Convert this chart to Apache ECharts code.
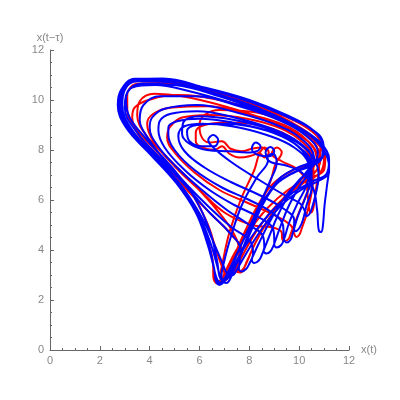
<!DOCTYPE html>
<html><head><meta charset="utf-8">
<script src="https://cdn.jsdelivr.net/npm/echarts@6/dist/echarts.min.js"></script>
<style>html,body{margin:0;padding:0;background:#fff}#c{width:400px;height:400px}</style>
</head><body><div id="c"></div><script>
// axis ranges / ticks
const xRange = [0, 12];
const yRange = [0, 12];
const tickStep = 2;
const xName = 'x(t)';
const yName = 'x(t\u2212\u03c4)';

// blue trajectory pieces (x(t), x(t-tau))
const blueOuter = [
[6.62,2.95],[6.68,2.7],[6.8,2.6],[6.95,2.7],[7.1,2.95],[7.45,3.7],[7.9,4.7],[8.4,5.7],[9.05,6.6],[9.8,7.1],[10.45,7.35],[10.9,7.65],[10.95,8.15],[10.55,8.8],[9.6,9.35],[8.0,10.0],[6.2,10.5],[4.5,10.85],[3.4,10.85],[2.85,10.4],[2.72,9.8],[3.05,8.9],[4.05,7.8],[5.05,6.7],[5.85,5.5],[6.3,4.3],[6.55,3.4],
[6.66,2.95],[6.76,2.74],[6.9,2.68],[7.05,2.8],[7.2,3.05],[7.65,3.85],[8.25,4.75],[8.95,5.6],[9.75,6.3],[10.55,6.75],[11.1,7.05],[11.2,7.6],[10.85,8.3],[9.8,9.0],[8.3,9.7],[6.5,10.3],[4.7,10.72],[3.5,10.75],[2.95,10.35],[2.85,9.75],[3.2,8.85],[4.2,7.75],[5.2,6.6],[5.95,5.45],[6.45,4.25],[6.7,3.4],
[6.8,3.05],[6.9,2.85],[7.03,2.8],[7.18,2.92],[7.32,3.15],[7.72,3.95],[8.15,4.95],[8.6,5.95],[9.2,6.85],[9.95,7.3],[10.6,7.55],[11.0,7.85],[10.95,8.35],[10.55,8.8],[9.7,9.25],[8.1,9.9],[6.3,10.45],[4.6,10.8],[3.45,10.8],[3.0,10.4],[2.9,9.8],[3.3,8.8],[4.4,7.6],[5.4,6.4],[6.15,5.2],[6.65,4.1],[6.95,3.4],
[7.08,3.1],[7.22,2.96],[7.38,3.02],[7.55,3.3],[8.05,4.15],[8.65,5.05],[9.35,5.85],[10.15,6.45],[10.85,6.8],[11.2,7.1],[11.2,7.65],[10.9,8.2],[10.15,8.8],[8.6,9.5],[6.8,10.15],[5.0,10.6],[3.7,10.65],[3.1,10.3],[3.0,9.7],[3.5,8.7],[4.5,7.6],[5.5,6.5],[6.4,5.5],[7.2,4.7],[7.65,4.0],[7.6,3.45]
];
const blueInner = [
[7.58,3.25],[7.7,3.14],[7.88,3.25],[8.0,3.45],[8.35,4.2],[8.8,5.1],[9.35,6.0],[10.0,6.8],[10.55,7.35],[10.75,7.9],[10.3,8.55],[9.3,9.15],[7.6,9.75],[5.8,10.15],[4.4,10.15],[3.75,9.8],[3.6,9.2],[3.85,8.6],[4.6,7.6],[5.5,6.6],[6.4,5.7],[7.3,4.9],[8.0,4.4],[8.15,3.85],
[8.1,3.6],[8.2,3.48],[8.38,3.58],[8.5,3.8],[8.8,4.55],[9.15,5.4],[9.65,6.3],[10.2,7.0],[10.6,7.7],[10.15,8.4],[9.1,9.0],[7.5,9.5],[5.9,9.8],[4.6,9.65],[4.1,9.3],[4.0,8.9],[4.3,8.2],[5.1,7.3],[6.1,6.4],[7.1,5.6],[8.0,5.0],[8.55,4.55],[8.6,4.1],
[8.57,3.98],[8.68,3.86],[8.85,3.95],[8.98,4.2],[9.25,4.95],[9.6,5.8],[10.05,6.6],[10.4,7.1],[10.5,7.65],[10.0,8.3],[8.9,8.85],[7.4,9.3],[5.9,9.55],[4.85,9.45],[4.4,9.15],[4.35,8.8],[4.6,8.1],[5.4,7.2],[6.4,6.4],[7.4,5.8],[8.4,5.3],[8.95,4.85],[9.0,4.4],
[9.0,4.22],[9.1,4.1],[9.28,4.2],[9.4,4.45],[9.6,5.1],[9.95,5.9],[10.3,6.6],[10.45,7.45],[9.9,8.2],[8.8,8.75],[7.3,9.1],[6.0,9.25],[5.1,9.15],[4.75,8.9],[4.75,8.6],[5.0,8.0],[5.8,7.2],[6.9,6.5],[8.0,6.0],[8.9,5.5],[9.35,5.0],[9.38,4.55],
[9.4,4.4],[9.5,4.3],[9.66,4.42],[9.75,4.7],[9.95,5.35],[10.25,6.1],[10.45,6.8],[10.4,7.4],[9.8,8.1],[8.7,8.6],[7.3,8.95],[6.1,9.05],[5.4,8.95],[5.15,8.55],[5.4,7.95],[6.2,7.3],[7.3,6.7],[8.4,6.2],[9.3,5.7],[9.8,5.2],[9.8,4.9]
];
const blueSpiral = [
[9.85,4.75],[10.02,4.9],[10.15,5.2],[10.3,5.8],[10.5,6.5],[10.5,7.2],[10.1,8.0],[9.3,8.55],[8.0,8.95],[6.8,9.05],[5.9,9.0],[5.5,8.75],[5.6,8.35],[6.1,8.15],[6.6,8.15],[6.75,8.4],[6.55,8.6],[6.35,8.4],[6.55,8.1],[7.3,7.5],[8.4,6.8],[9.4,6.2],[10.05,5.85],[10.25,5.5],
[10.3,5.35],[10.42,5.45],[10.52,5.7],[10.68,6.3],[10.78,6.95],[10.6,7.65],[10.0,8.25],[8.9,8.8],[7.4,9.2],[6.0,9.35],[5.35,9.1],[5.3,8.65],[5.6,8.25],[6.3,8.0],[7.2,7.95],[7.9,7.9],[8.3,7.95],[8.45,8.15],[8.25,8.3],[8.1,8.05],[8.35,7.8],[8.8,7.75],[9.0,7.95],[8.85,8.12],[8.65,7.9],[8.75,7.6],
[8.3,6.9],[7.7,5.8],[7.25,4.5],[6.98,3.5],[6.88,2.95],[6.95,2.72],[7.08,2.68],[7.22,2.82],
[7.55,3.6],[8.0,4.7],[8.5,5.75],[9.1,6.65],[9.85,7.15],[10.55,7.45],[10.95,7.75],[10.95,8.25],[10.6,8.75],[9.65,9.3],[8.05,9.95],[6.25,10.48],[4.55,10.85],[3.42,10.83],[2.9,10.4],[2.78,9.8],[3.15,8.85],[4.15,7.75],[5.15,6.65],[5.9,5.5],[6.35,4.3],[6.58,3.3],[6.65,2.85],[6.75,2.68],[6.88,2.7],[7.0,2.85],
[7.5,3.85],[8.0,4.9],[8.45,5.9],[8.85,6.8],[9.1,7.5],[8.95,7.85],[8.7,7.7],[8.9,7.5],[9.4,7.4],[10.1,7.1],[10.55,6.5],[10.72,5.6],[10.76,5.0],[10.8,4.76],[10.88,4.72],[10.95,4.95],[11.02,5.8],[11.12,6.6],[11.2,7.3],[10.95,8.05],[10.25,8.7],[9.05,9.3],[7.4,9.85],[5.6,10.35],[4.2,10.6],[3.3,10.5],[3.05,10.0],[3.2,9.3],[3.9,8.4],[4.9,7.3],[5.8,6.1],[6.4,4.8],[6.7,3.6],[6.8,2.95],[6.9,2.78]
];

// red trajectory pieces
const redOuter = [
[6.55,2.95],[6.6,2.75],[6.72,2.66],[6.86,2.76],[7.0,3.0],[7.4,3.8],[7.85,4.8],[8.35,5.8],[8.95,6.65],[9.75,7.2],[10.45,7.45],[10.85,7.8],[10.85,8.25],[10.5,8.75],[9.55,9.3],[7.95,9.95],[6.15,10.45],[4.45,10.78],[3.38,10.75],[2.92,10.3],[2.85,9.7],[3.2,8.85],[4.2,7.75],[5.2,6.6],[5.95,5.4],[6.4,4.15],[6.55,3.3],
[6.55,3.0],[6.63,2.8],[6.76,2.74],[6.9,2.86],[7.02,3.1],[7.45,3.95],[8.05,4.85],[8.75,5.7],[9.55,6.4],[10.35,6.85],[11.0,7.2],[11.05,7.8],[10.65,8.45],[9.7,9.1],[8.2,9.8],[6.4,10.35],[4.6,10.68],[3.5,10.65],[3.1,10.2],[3.1,9.6],[3.5,8.8],[4.6,7.6],[5.6,6.4],[6.3,5.1],[6.7,3.9],[6.95,3.2]
];
const redInner = [
[7.02,3.05],[7.15,2.94],[7.3,3.0],[7.45,3.25],[7.9,4.1],[8.45,5.0],[9.15,5.85],[9.9,6.55],[10.55,7.0],[10.85,7.6],[10.6,8.3],[9.85,8.9],[8.5,9.5],[6.8,10.0],[5.1,10.2],[3.95,10.0],[3.4,9.7],[3.3,9.3],[3.55,8.6],[4.5,7.5],[5.5,6.4],[6.5,5.4],[7.3,4.6],[7.7,3.95],[7.55,3.4],
[7.5,3.22],[7.62,3.15],[7.78,3.28],[7.88,3.5],[8.25,4.3],[8.75,5.2],[9.35,6.05],[10.0,6.75],[10.5,7.2],[10.7,7.7],[10.3,8.4],[9.4,9.0],[7.9,9.45],[6.3,9.75],[4.9,9.7],[4.15,9.45],[3.9,9.05],[4.15,8.35],[5.0,7.35],[6.0,6.4],[7.0,5.5],[8.1,5.0],[8.95,4.9],[9.3,4.7],[9.32,4.45],
[9.42,4.36],[9.58,4.45],[9.68,4.7],[9.95,5.4],[10.28,6.2],[10.55,7.0],[10.55,7.7],[10.15,8.3],[9.3,8.85],[7.9,9.25],[6.4,9.4],[5.3,9.3],[4.8,8.9],[4.7,8.5],[5.0,7.9],[5.8,7.1],[6.8,6.4],[7.9,5.9],[9.0,5.4],[9.65,5.0],[9.8,4.65]
];
const redHeart = [
[9.88,4.52],[10.0,4.6],[10.1,4.85],[10.32,5.5],[10.5,6.3],[10.58,7.1],[10.35,7.9],[9.6,8.55],[8.4,9.0],[7.1,9.1],[6.2,9.0],[5.85,8.7],[5.85,8.35],[6.1,8.1],[6.6,8.0],[6.9,8.15],[7.2,7.85],[7.6,7.7],[8.0,7.75],[8.4,7.9],[8.6,8.1],[8.78,7.9],[8.6,7.7],[8.45,7.85],
[8.2,7.2],[7.65,6.0],[7.2,4.7],[6.95,3.6],[6.85,3.0],[6.9,2.82],[7.02,2.78],[7.15,2.92],
[7.5,3.85],[7.95,4.85],[8.45,5.85],[8.85,6.75],[9.05,7.45],[9.3,7.9],[9.1,8.1],[8.9,7.85],[9.3,7.55],[9.9,7.25],[10.25,6.8],[10.35,6.1],[10.4,5.65],[10.47,5.5],[10.55,5.6],[10.62,6.0],[10.7,6.6],[10.8,7.2],[10.65,8.0],[9.9,8.65],[8.7,9.2],[7.0,9.75],[5.3,10.15],[4.2,10.25],[3.6,9.95],[3.5,9.4],[3.85,8.6],[4.8,7.6],[5.8,6.6],[6.7,5.6],[7.35,4.7],[7.6,3.9],[7.45,3.3],[7.5,3.12],[7.65,3.1],[7.8,3.3],
[8.25,4.3],[8.8,5.25],[9.45,6.1],[10.2,6.7],[10.85,7.1],[11.0,7.7],[10.6,8.4],[9.7,9.0],[8.3,9.5],[6.8,9.6],[6.2,9.4],[6.0,9.0],[6.05,8.6],[6.4,8.3],[6.9,8.35],[7.25,8.05],[7.7,7.95],[8.1,8.05],[8.5,8.1],[8.7,7.95]
];

const bluePath = [].concat(blueOuter, blueInner, blueSpiral);
const redPath = [].concat(redOuter, redInner, redHeart);

const chart = echarts.init(document.getElementById('c'), null, {renderer: 'canvas'});
const axisCommon = {
  type: 'value', interval: tickStep,
  axisLine: {show: true, lineStyle: {color: '#666', width: 1}},
  axisTick: {show: true, inside: true, length: 4, lineStyle: {color: '#666'}},
  minorTick: {show: true, splitNumber: 4, length: 2, lineStyle: {color: '#666'}},
  splitLine: {show: false},
  axisLabel: {color: '#888', fontSize: 11, fontFamily: 'Liberation Sans'},
  nameTextStyle: {color: '#888', fontSize: 11, fontFamily: 'Liberation Sans'}
};
chart.setOption({
  animation: false,
  grid: {left: 50, right: 51, top: 50, bottom: 50, containLabel: false},
  xAxis: Object.assign({}, axisCommon, {min: xRange[0], max: xRange[1], name: xName, nameLocation: 'end', nameGap: 8,
    axisLabel: Object.assign({}, axisCommon.axisLabel, {margin: 5})}),
  yAxis: Object.assign({}, axisCommon, {min: yRange[0], max: yRange[1], name: yName, nameLocation: 'end', nameGap: 7,
    axisLabel: Object.assign({}, axisCommon.axisLabel, {margin: 6})}),
  series: [
    {type: 'line', data: redPath, showSymbol: false, smooth: 0.4, lineStyle: {color: '#ff0000', width: 2}, z: 2},
    {type: 'line', data: bluePath, showSymbol: false, smooth: 0.4, lineStyle: {color: '#0000ff', width: 2}, z: 3}
  ]
});
</script></body></html>
